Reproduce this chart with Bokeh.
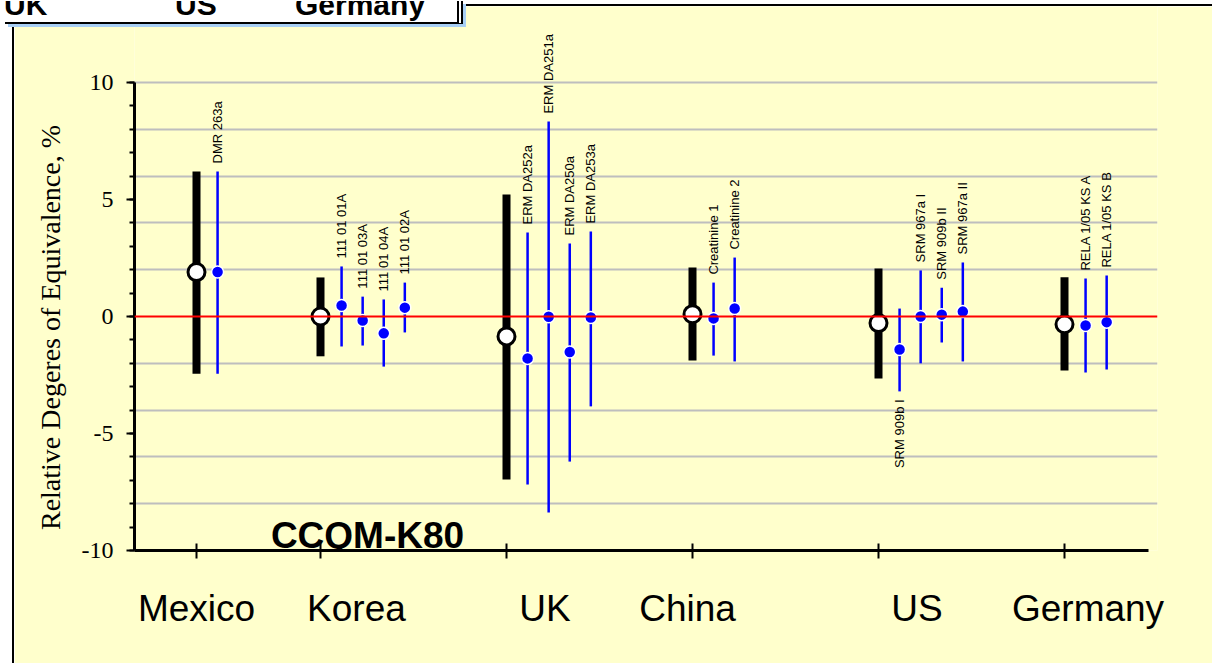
from bokeh.plotting import figure
from bokeh.models import (Range1d, FixedTicker, SingleIntervalTicker, Span, LabelSet,
                          ColumnDataSource, Label, LinearAxis, Div)
from bokeh.layouts import column
from bokeh.core.properties import value
from bokeh.embed import file_html
from bokeh.resources import INLINE

# ---------------- data ----------------
countries = ["Mexico", "Korea", "UK", "China", "US", "Germany"]
country_x = [1.0, 2.0, 3.5, 5.0, 6.5, 8.0]          # tick positions of the institutes
country_label_x = [1.0, 2.29, 3.81, 4.96, 6.81, 8.19]
lab_value = [1.9, 0.0, -0.85, 0.1, -0.28, -0.33]
lab_low = [-2.45, -1.70, -6.97, -1.88, -2.65, -2.31]
lab_high = [6.20, 1.67, 5.21, 2.09, 2.05, 1.68]

materials = ["DMR 263a", "111 01 01A", "111 01 03A", "111 01 04A", "111 01 02A",
             "ERM DA252a", "ERM DA251a", "ERM DA250a", "ERM DA253a",
             "Creatinine 1", "Creatinine 2",
             "SRM 909b I", "SRM 967a I", "SRM 909b II", "SRM 967a II",
             "RELA 1/05 KS A", "RELA 1/05 KS B"]
mat_country = [0, 1, 1, 1, 1, 2, 2, 2, 2, 3, 3, 4, 4, 4, 4, 5, 5]
mat_slot = [1, 1, 2, 3, 4, 1, 2, 3, 4, 1, 2, 1, 2, 3, 4, 1, 2]
mat_value = [1.9, 0.47, -0.17, -0.72, 0.38, -1.79, -0.01, -1.52, -0.04,
             -0.08, 0.34, -1.41, 0.0, 0.08, 0.21, -0.38, -0.24]
mat_low = [-2.45, -1.28, -1.24, -2.14, -0.68, -7.18, -8.38, -6.20, -3.84,
           -1.67, -1.92, -3.20, -2.00, -1.11, -1.92, -2.39, -2.26]
mat_high = [6.20, 2.14, 0.85, 0.73, 1.45, 3.59, 8.33, 3.12, 3.63,
            1.45, 2.52, 0.34, 1.97, 1.23, 2.31, 1.62, 1.75]
label_below = ["SRM 909b I"]

title_text = "CCQM-K80"
y_label = "Relative Degeres of Equivalence, %"
header_texts = ["UK", "US", "Germany"]

# ---------------- derived ----------------
SLOT = 0.17
mat_x = [country_x[c] + SLOT * s for c, s in zip(mat_country, mat_slot)]

lab_src = ColumnDataSource(dict(x=country_x, v=lab_value, lo=lab_low, hi=lab_high))
mat_src = ColumnDataSource(dict(x=mat_x, v=mat_value, lo=mat_low, hi=mat_high))

above = [i for i, m in enumerate(materials) if m not in label_below]
below = [i for i, m in enumerate(materials) if m in label_below]
lab_above = ColumnDataSource(dict(x=[mat_x[i] for i in above], y=[mat_high[i] for i in above],
                                  t=[materials[i] for i in above]))
lab_below = ColumnDataSource(dict(x=[mat_x[i] for i in below], y=[mat_low[i] for i in below],
                                  t=[materials[i] for i in below]))

YELLOW = "#FFFFCC"

p = figure(width=1200, height=659, output_backend="svg", toolbar_location=None,
           x_range=Range1d(0.5, 8.75), y_range=Range1d(-10, 13.25),
           min_border_left=120, min_border_right=57, min_border_top=0, min_border_bottom=115,
           styles={"margin-left": "12px", "border-left": "2px solid black",
                   "margin-top": "4px", "border-top": "2px solid black"})
p.background_fill_color = YELLOW
p.border_fill_color = YELLOW
p.outline_line_color = None

# y axis
p.yaxis.bounds = (-10, 10)
p.yaxis.ticker = SingleIntervalTicker(interval=5, num_minor_ticks=5)
p.yaxis.major_label_overrides = {-10: "-10", -5: "-5"}
p.yaxis.axis_line_width = 3
p.yaxis.major_tick_out = 8
p.yaxis.major_tick_in = 0
p.yaxis.minor_tick_out = 5
p.yaxis.minor_tick_in = 0
p.yaxis.major_tick_line_width = 2
p.yaxis.minor_tick_line_width = 2
p.yaxis.major_label_text_font = "Liberation Serif"
p.yaxis.major_label_text_font_size = "24px"
p.yaxis.major_label_text_color = "black"
p.yaxis.major_label_standoff = 13
# trailing no-break spaces shift the centred label down to the reference position
p.yaxis.axis_label = y_label + "\u00a0" * 14
p.yaxis.axis_label_text_font = "Liberation Serif"
p.yaxis.axis_label_text_font_size = "28px"
p.yaxis.axis_label_text_font_style = "normal"
p.yaxis.axis_label_text_color = "black"
p.yaxis.axis_label_standoff = 13

# x axis (tick crosses)
p.xaxis.bounds = (0.5, 8.68)
p.xaxis.ticker = FixedTicker(ticks=country_x)
p.xaxis.major_label_overrides = {x: "" for x in country_x}
p.xaxis.axis_line_width = 3
p.xaxis.major_tick_in = 7
p.xaxis.major_tick_out = 8
p.xaxis.major_tick_line_width = 2
p.xaxis.minor_tick_line_color = None
p.xaxis.major_label_text_font_size = "1px"
p.xaxis.major_label_standoff = 0

# second x axis carrying the institute names
name_axis = LinearAxis(ticker=FixedTicker(ticks=country_label_x),
                       major_label_overrides={x: n for x, n in zip(country_label_x, countries)},
                       axis_line_color=None, major_tick_line_color=None, minor_tick_line_color=None,
                       major_label_text_font="Liberation Sans", major_label_text_font_size="37px",
                       major_label_text_color="black", major_label_standoff=23)
p.add_layout(name_axis, "below")

# grid
p.xgrid.visible = False
p.ygrid.ticker = FixedTicker(ticks=[-8, -6, -4, -2, 2, 4, 6, 8, 10])
p.ygrid.grid_line_color = "#BEBEBE"
p.ygrid.grid_line_width = 2

p.add_layout(Span(location=0, dimension="width", line_color="#FF0000", line_width=2))

# bars and points
p.segment(x0="x", y0="lo", x1="x", y1="hi", source=lab_src, line_color="black", line_width=8)
p.segment(x0="x", y0="lo", x1="x", y1="hi", source=mat_src, line_color="#0000FF", line_width=2.5)
p.scatter(x="x", y="v", source=lab_src, size=17, fill_color="white", line_color="black", line_width=3)
p.scatter(x="x", y="v", source=mat_src, size=12, fill_color="#0000FF", line_color="white", line_width=1.5)

# material labels
p.add_layout(LabelSet(x="x", y="y", text="t", source=lab_above, angle=90, angle_units="deg",
                      y_offset=8, text_align="left", text_baseline="middle",
                      text_font=value("Liberation Sans"), text_font_size="13px", text_color="black"))
p.add_layout(LabelSet(x="x", y="y", text="t", source=lab_below, angle=90, angle_units="deg",
                      y_offset=-8, text_align="right", text_baseline="middle",
                      text_font=value("Liberation Sans"), text_font_size="13px", text_color="black"))

p.add_layout(Label(x=1.6, y=-9.36, text=title_text, text_align="left", text_baseline="alphabetic",
                   text_font="Liberation Sans", text_font_size="37px", text_font_style="bold",
                   text_color="black"))

# clipped header box at the top-left of the slide
spans = "".join(
    f'<span style="position:absolute;left:{lx}px;top:-11px;font-family:\'Liberation Sans\';'
    f'font-weight:bold;font-size:30px;line-height:30px;color:black;white-space:nowrap;">{t}</span>'
    for t, lx in zip(header_texts, [-1, 170, 290]))
header_html = (
    '<div style="position:relative;width:472px;height:28px;overflow:hidden;">'
    '<div style="position:absolute;left:0;top:0;width:458px;height:23px;background:white;'
    'border-bottom:2px solid black;border-right:6px double black;'
    'box-shadow:3px 3px 0 #A8CFF5;"></div>' + spans + '</div>')
header = Div(text=header_html, width=472, height=28,
             styles={"margin-top": "-662px", "position": "relative", "z-index": "10"})

layout = column(p, header)

open("out.html", "w").write(file_html(layout, INLINE))
